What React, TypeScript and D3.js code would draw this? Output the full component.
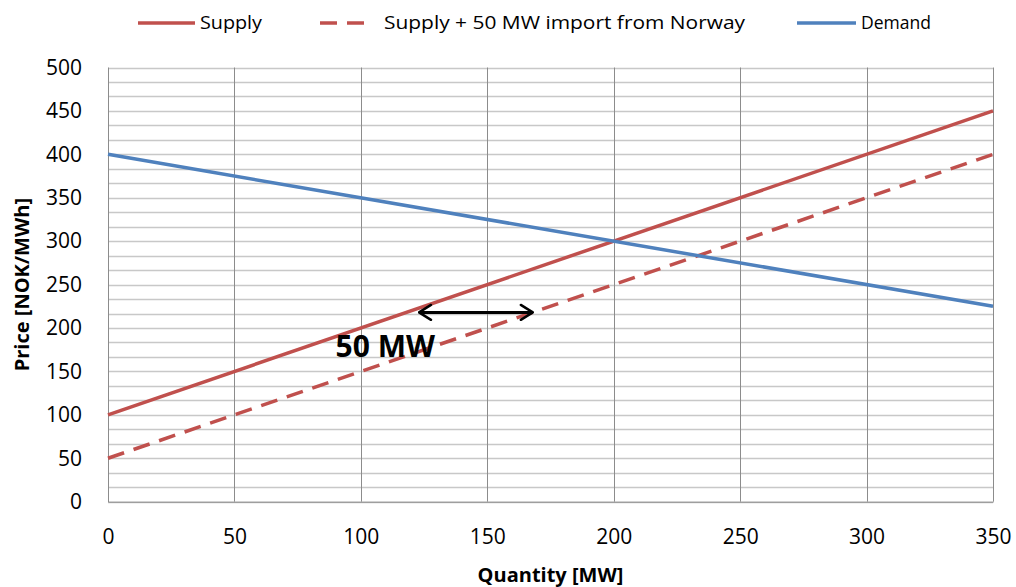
import * as d3 from "d3";
import { useEffect, useRef } from "react";

type Pt = { q: number; p: number };

const supply: Pt[] = [
  { q: 0, p: 100 },
  { q: 350, p: 450 },
];
const supplyImport: Pt[] = [
  { q: 0, p: 50 },
  { q: 350, p: 400 },
];
const demand: Pt[] = [
  { q: 0, p: 400 },
  { q: 350, p: 225 },
];
const xTicks = [0, 50, 100, 150, 200, 250, 300, 350];
const yTicks = [0, 50, 100, 150, 200, 250, 300, 350, 400, 450, 500];
const arrowFrom = { q: 123, p: 218 };
const arrowTo = { q: 168, p: 218 };
const arrowLabel = { q: 90, p: 167, text: "50 MW" };

const RED = "#C0504D";
const BLUE = "#4F81BD";
const FONT = "'Open Sans', 'Noto Sans', sans-serif";

export default function App() {
  const ref = useRef<SVGSVGElement | null>(null);

  useEffect(() => {
    const el = ref.current;
    if (!el) return;
    const svg = d3.select(el);
    svg.selectAll("*").remove();

    const W = 1016;
    const H = 587;
    const left = 108;
    const right = 993;
    const top = 67.5;
    const bottom = 501.7;

    const x = d3.scaleLinear().domain([0, 350]).range([left, right]);
    const y = d3.scaleLinear().domain([0, 500]).range([bottom, top]);

    svg.attr("width", W).attr("height", H).attr("viewBox", `0 0 ${W} ${H}`);
    svg.append("rect").attr("width", W).attr("height", H).attr("fill", "#fff");

    // horizontal grid (minor every 50/3)
    const hLines = d3.range(0, 31).map((i) => (i * 50) / 3);
    svg
      .append("g")
      .selectAll("line")
      .data(hLines)
      .join("line")
      .attr("x1", left)
      .attr("x2", right)
      .attr("y1", (d) => Math.round(y(d)) + 0.5)
      .attr("y2", (d) => Math.round(y(d)) + 0.5)
      .attr("stroke", "#c8c8c8")
      .attr("stroke-width", 1.3);

    // vertical grid
    svg
      .append("g")
      .selectAll("line")
      .data(xTicks)
      .join("line")
      .attr("x1", (d) => Math.round(x(d)) + 0.5)
      .attr("x2", (d) => Math.round(x(d)) + 0.5)
      .attr("y1", top)
      .attr("y2", bottom)
      .attr("stroke", "#8c8c8c")
      .attr("stroke-width", 1);

    // axes
    const yAxis = d3
      .axisLeft(y)
      .tickValues(yTicks)
      .tickSize(0)
      .tickPadding(26)
      .tickFormat(d3.format("d") as (v: d3.NumberValue) => string);
    svg
      .append("g")
      .attr("transform", `translate(${left},0)`)
      .call(yAxis)
      .call((g) => g.select(".domain").attr("stroke", "#8c8c8c"))
      .call((g) =>
        g.selectAll(".tick text").attr("font-family", FONT).attr("font-size", 21).attr("fill", "#000"),
      );

    const xAxis = d3
      .axisBottom(x)
      .tickValues(xTicks)
      .tickSize(0)
      .tickPadding(27)
      .tickFormat(d3.format("d") as (v: d3.NumberValue) => string);
    svg
      .append("g")
      .attr("transform", `translate(0,${bottom})`)
      .call(xAxis)
      .call((g) => g.select(".domain").attr("stroke", "#8c8c8c"))
      .call((g) =>
        g.selectAll(".tick text").attr("font-family", FONT).attr("font-size", 21).attr("fill", "#000"),
      );

    const line = d3
      .line<Pt>()
      .x((d) => x(d.q))
      .y((d) => y(d.p));

    svg
      .append("path")
      .datum(supplyImport)
      .attr("fill", "none")
      .attr("stroke", RED)
      .attr("stroke-width", 3.5)
      .attr("stroke-dasharray", "17,10")
      .attr("d", line);
    svg
      .append("path")
      .datum(supply)
      .attr("fill", "none")
      .attr("stroke", RED)
      .attr("stroke-width", 3.5)
      .attr("d", line);
    svg
      .append("path")
      .datum(demand)
      .attr("fill", "none")
      .attr("stroke", BLUE)
      .attr("stroke-width", 3.5)
      .attr("d", line);

    // 50 MW arrow
    const defs = svg.append("defs");
    defs
      .append("marker")
      .attr("id", "chev")
      .attr("viewBox", "0 0 12 12")
      .attr("refX", 11)
      .attr("refY", 6)
      .attr("markerWidth", 6)
      .attr("markerHeight", 6)
      .attr("markerUnits", "strokeWidth")
      .attr("orient", "auto-start-reverse")
      .append("path")
      .attr("d", "M3,1 L11,6 L3,11")
      .attr("fill", "none")
      .attr("stroke", "#000")
      .attr("stroke-width", 1.6)
      .attr("stroke-linecap", "round")
      .attr("stroke-linejoin", "round");
    svg
      .append("line")
      .attr("x1", x(arrowFrom.q))
      .attr("x2", x(arrowTo.q))
      .attr("y1", y(arrowFrom.p))
      .attr("y2", y(arrowTo.p))
      .attr("stroke", "#000")
      .attr("stroke-width", 3)
      .attr("marker-start", "url(#chev)")
      .attr("marker-end", "url(#chev)");
    svg
      .append("text")
      .attr("x", x(arrowLabel.q))
      .attr("y", y(arrowLabel.p))
      .attr("font-family", FONT)
      .attr("font-size", 30)
      .attr("font-weight", 700)
      .attr("fill", "#000")
      .text(arrowLabel.text);

    // axis titles
    svg
      .append("text")
      .attr("transform", `translate(29,${(top + bottom) / 2}) rotate(-90)`)
      .attr("text-anchor", "middle")
      .attr("font-family", FONT)
      .attr("font-size", 20)
      .attr("font-weight", 700)
      .text("Price [NOK/MWh]");
    svg
      .append("text")
      .attr("x", (left + right) / 2)
      .attr("y", 582)
      .attr("text-anchor", "middle")
      .attr("font-family", FONT)
      .attr("font-size", 20)
      .attr("font-weight", 700)
      .text("Quantity [MW]");

    // legend
    const legend = [
      { label: "Supply", color: RED, dash: null as string | null, x1: 138, x2: 195, tx: 200, tw: 62 },
      { label: "Supply + 50 MW import from Norway", color: RED, dash: "17,10", x1: 320, x2: 364, tx: 384, tw: 361 },
      { label: "Demand", color: BLUE, dash: null, x1: 797, x2: 856, tx: 861, tw: 70 },
    ];
    const lg = svg.append("g");
    legend.forEach((l) => {
      lg.append("line")
        .attr("x1", l.x1)
        .attr("x2", l.x2)
        .attr("y1", 23)
        .attr("y2", 23)
        .attr("stroke", l.color)
        .attr("stroke-width", 3.5)
        .attr("stroke-dasharray", l.dash ?? null);
      lg.append("text")
        .attr("x", l.tx)
        .attr("y", 29)
        .attr("font-family", FONT)
        .attr("font-size", 18)
        .attr("textLength", l.tw)
        .attr("lengthAdjust", "spacingAndGlyphs")
        .text(l.label);
    });
  }, []);

  return <svg ref={ref} style={{ position: "absolute", left: 0, top: 0 }} />;
}
